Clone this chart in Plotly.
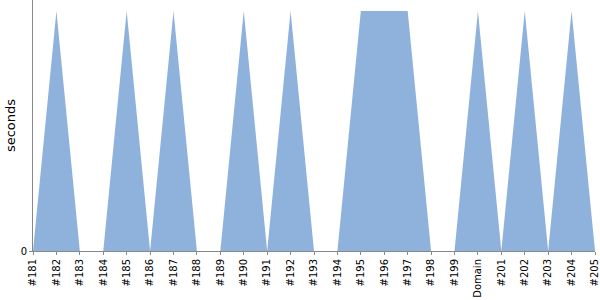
import plotly.graph_objects as go

categories = ["#181", "#182", "#183", "#184", "#185", "#186", "#187", "#188", "#189",
              "#190", "#191", "#192", "#193", "#194", "#195", "#196", "#197", "#198",
              "#199", "Domain", "#201", "#202", "#203", "#204", "#205"]
seconds = [0, 1, 0, 0, 1, 0, 1, 0, 0, 1, 0, 1, 0, 0, 1, 1, 1, 0, 0, 1, 0, 1, 0, 1, 0]

FONT = "DejaVu Sans"

fig = go.Figure()
fig.add_trace(go.Scatter(
    x=categories, y=seconds, mode="lines", fill="tozeroy",
    line=dict(width=0, color="rgb(143,178,220)"),
    fillcolor="rgb(143,178,220)", hoverinfo="x+y",
))

fig.update_layout(
    width=600, height=300,
    margin=dict(l=33, r=5, t=0, b=49),
    paper_bgcolor="white", plot_bgcolor="white",
    showlegend=False,
    font=dict(family=FONT, size=11, color="black"),
)
fig.update_xaxes(
    type="category", range=[0, len(categories) - 1],
    showgrid=False, showline=True, linecolor="#888", linewidth=1,
    tickangle=-90, ticks="outside", ticklen=3, tickcolor="#888",
    tickfont=dict(size=10, family=FONT), automargin=False,
)
fig.update_yaxes(
    range=[0, 1.0458], tickvals=[0], ticktext=["0"],
    showgrid=False, zeroline=False, showline=True, linecolor="#888", linewidth=1,
    ticks="outside", ticklen=3, tickcolor="#888",
    tickfont=dict(size=10, family=FONT),
    title=dict(text="seconds", font=dict(size=13, family=FONT), standoff=2),
    automargin=False,
)
fig.write_html("out.html")
